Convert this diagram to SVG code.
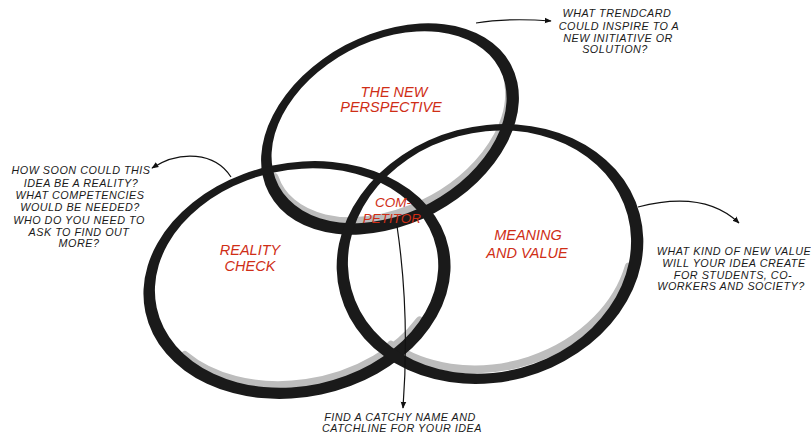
<svg xmlns="http://www.w3.org/2000/svg" width="811" height="436" viewBox="0 0 811 436">
<defs>
<style>
.ring{fill:#1a1a1a;fill-rule:evenodd}
.shadow{fill:none;stroke:#bdbdbd;stroke-width:8;stroke-linecap:round}
.lbl{font-family:"Liberation Sans",Arial,sans-serif;font-style:italic;fill:#cf2e16;font-size:14.5px;text-anchor:middle}
.note{font-family:"Liberation Sans",Arial,sans-serif;font-style:italic;fill:#1a1a1a;font-size:10.8px;letter-spacing:0.5px;text-anchor:middle}
.conn{fill:none;stroke:#111;stroke-width:1.2}
</style>
<marker id="ah" viewBox="0 0 10 10" refX="9" refY="5" markerWidth="7" markerHeight="7" orient="auto" markerUnits="userSpaceOnUse">
<path d="M0,1 L10,5 L0,9 Z" fill="#111"/>
</marker>
</defs>
<rect width="811" height="436" fill="#fff"/>

<g id="shadows">
<path class="shadow" transform="translate(390,126) rotate(-28)" d="M-126,-9 A127 84 0 0 0 124 19"/>
<path class="shadow" transform="translate(297,277) rotate(-12)" d="M-126,53 A145 106 0 0 0 111 68"/>
<path class="shadow" transform="translate(490,251) rotate(-15)" d="M-120,65 A145 117 0 0 0 130 51"/>
</g>

<g id="node-perspective">
<path class="ring" transform="translate(390,129) rotate(-28)" d="M-137,0 A137 95 0 1 0 137 0 A137 95 0 1 0 -137 0 Z M-125,-2 A125 86 0 1 0 125 -2 A125 86 0 1 0 -125 -2 Z"/>
<text class="lbl" x="394" y="97">THE NEW</text>
<text class="lbl" x="391" y="112">PERSPECTIVE</text>
</g>

<g id="node-reality">
<path class="ring" transform="translate(297,280) rotate(-12)" d="M-155,0 A155 117 0 1 0 155 0 A155 117 0 1 0 -155 0 Z M-143,-2 A143 108 0 1 0 143 -2 A143 108 0 1 0 -143 -2 Z"/>
<text class="lbl" x="250" y="255">REALITY</text>
<text class="lbl" x="250" y="271">CHECK</text>
</g>

<g id="node-meaning">
<path class="ring" transform="translate(490,254) rotate(-15)" d="M-155,0 A155 128 0 1 0 155 0 A155 128 0 1 0 -155 0 Z M-143,-2 A143 120 0 1 0 143 -2 A143 120 0 1 0 -143 -2 Z"/>
<text class="lbl" x="528" y="240">MEANING</text>
<text class="lbl" x="527" y="258">AND VALUE</text>
</g>

<g id="node-competitor">
<text class="lbl" x="393" y="207" style="font-size:13.5px">COM-</text>
<text class="lbl" x="392" y="223" style="font-size:13.5px">PETITOR</text>
</g>

<g id="note-top">
<text class="note" x="617" y="17">WHAT TRENDCARD</text>
<text class="note" x="619" y="30">COULD INSPIRE TO A</text>
<text class="note" x="618" y="42">NEW INITIATIVE OR</text>
<text class="note" x="615" y="53">SOLUTION?</text>
</g>

<g id="note-left">
<text class="note" x="81" y="174">HOW SOON COULD THIS</text>
<text class="note" x="81" y="187">IDEA BE A REALITY?</text>
<text class="note" x="80" y="199">WHAT COMPETENCIES</text>
<text class="note" x="80" y="211">WOULD BE NEEDED?</text>
<text class="note" x="79" y="224">WHO DO YOU NEED TO</text>
<text class="note" x="79" y="236">ASK TO FIND OUT</text>
<text class="note" x="79" y="247">MORE?</text>
</g>

<g id="note-right">
<text class="note" x="734" y="255">WHAT KIND OF NEW VALUE</text>
<text class="note" x="734" y="267">WILL YOUR IDEA CREATE</text>
<text class="note" x="733" y="279">FOR STUDENTS, CO-</text>
<text class="note" x="731" y="290">WORKERS AND SOCIETY?</text>
</g>

<g id="note-bottom">
<text class="note" x="400" y="421">FIND A CATCHY NAME AND</text>
<text class="note" x="402" y="432">CATCHLINE FOR YOUR IDEA</text>
</g>

<g id="connectors">
<path class="conn" marker-end="url(#ah)" d="M476,23 C500,19 525,19 551,21"/>
<path class="conn" marker-end="url(#ah)" d="M231,177 C215,152 180,150 152,168"/>
<path class="conn" marker-end="url(#ah)" d="M638,207 C680,196 715,200 739,223"/>
<path class="conn" marker-end="url(#ah)" d="M397,226 C405,280 408,340 403,408"/>
</g>
</svg>
